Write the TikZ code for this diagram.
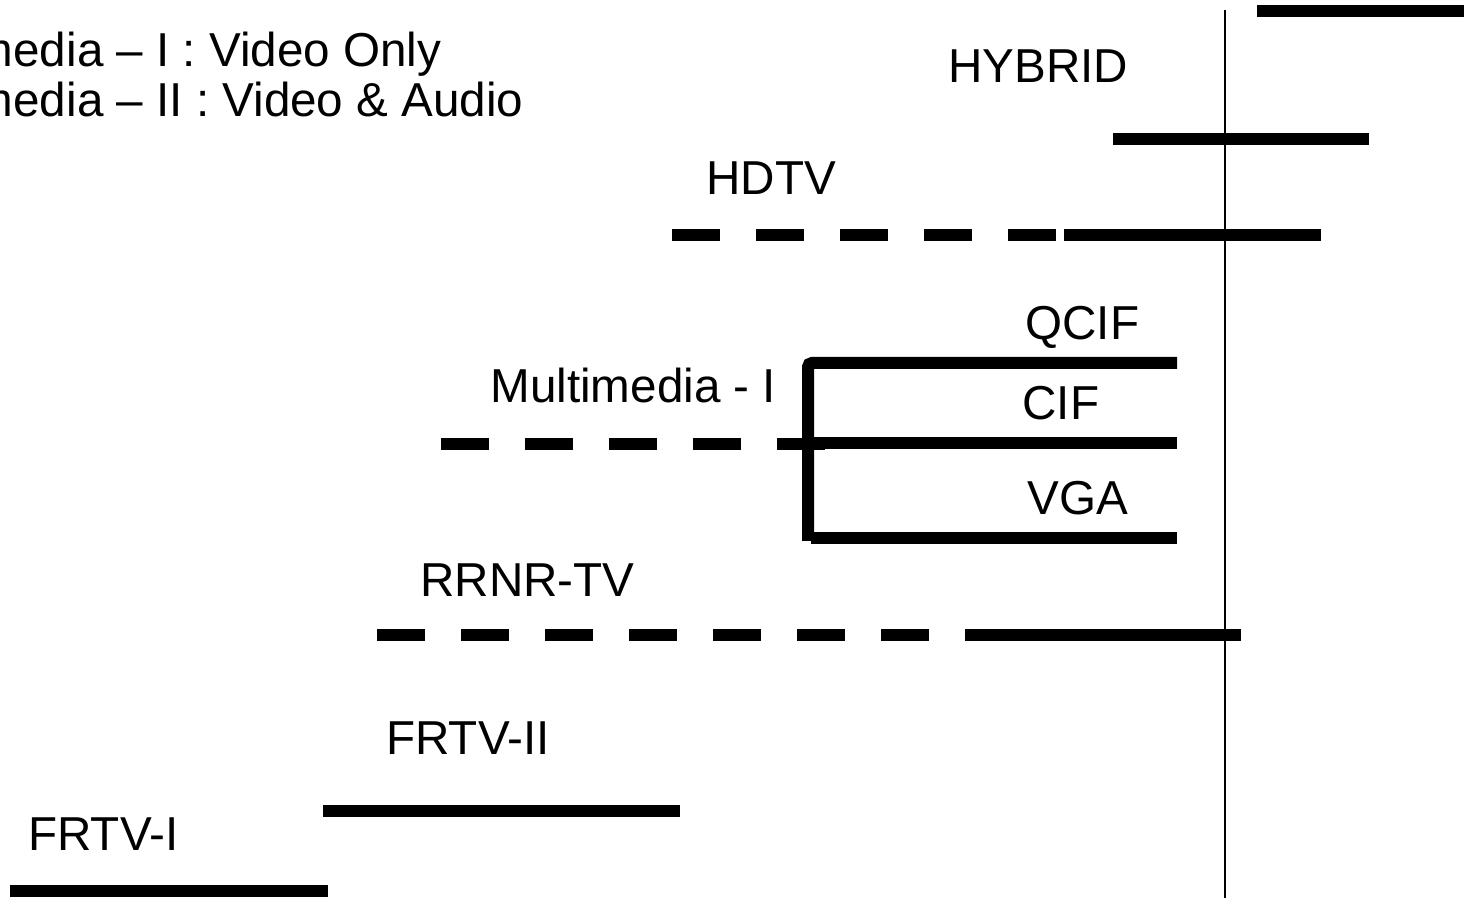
\documentclass[tikz,border=0pt]{standalone}
\usepackage{fontspec}
\setmainfont{Liberation Sans}
\usetikzlibrary{positioning}

\begin{document}
\begin{tikzpicture}[x=0.5pt,y=-0.5pt,
    lbl/.style={anchor=base west,inner sep=0pt,font=\fontsize{23.8}{28}\selectfont},
    bar/.style={line width=6pt},
    dashbar/.style={line width=6pt,dash pattern=on 24pt off 18pt}]
  \useasboundingbox (0,0) rectangle (1464,898);
  \clip (0,0) rectangle (1464,898);
  % legend, cut at the left edge
  \node[lbl] (legA) at (-127,67) {Multimedia – I : Video Only};
  \node[lbl] (legB) at (-127,117) {Multimedia – II : Video \& Audio};
  % time line
  \coordinate (tTop) at (1225,10); \coordinate (tBot) at (1225,898);
  \draw[line width=1.2pt] (tTop) -- (tBot);
  % labels
  \node[lbl] (hybrid) at (948,83) {HYBRID};
  \node[lbl] (hdtv) at (706,195) {HDTV};
  \node[lbl] (qcif) at (1025,340) {QCIF};
  \node[lbl] (mmI) at (490,403) {Multimedia - I};
  \node[lbl] (cif) at (1022,420) {CIF};
  \node[lbl] (vga) at (1027,515) {VGA};
  \node[lbl] (rrnr) at (420,597) {RRNR-TV};
  \node[lbl] (frtvII) at (386,755) {FRTV-II};
  \node[lbl] (frtvI) at (28,851) {FRTV-I};
  % hybrid
  \draw[bar] (1257,11) -- (1470,11);
  \draw[bar] (1113,139) -- (1369,139);
  % hdtv
  \draw[dashbar] (672,235) -- (1056,235);
  \draw[bar] (1064,235) -- (1321,235);
  % multimedia
  \draw[dashbar] (441,444) -- (825,444);
  \draw[bar,rounded corners=2pt] (1177,363) -- (808,363) -- (808,541);
  \draw[bar] (808,443) -- (1177,443);
  \draw[bar] (811,538) -- (1177,538);
  % rrnr-tv
  \draw[dashbar] (377,635) -- (978,635);
  \draw[bar] (978,635) -- (1241,635);
  % frtv
  \draw[bar] (323,811) -- (680,811);
  \draw[bar] (10,891) -- (328,891);
\end{tikzpicture}
\end{document}
